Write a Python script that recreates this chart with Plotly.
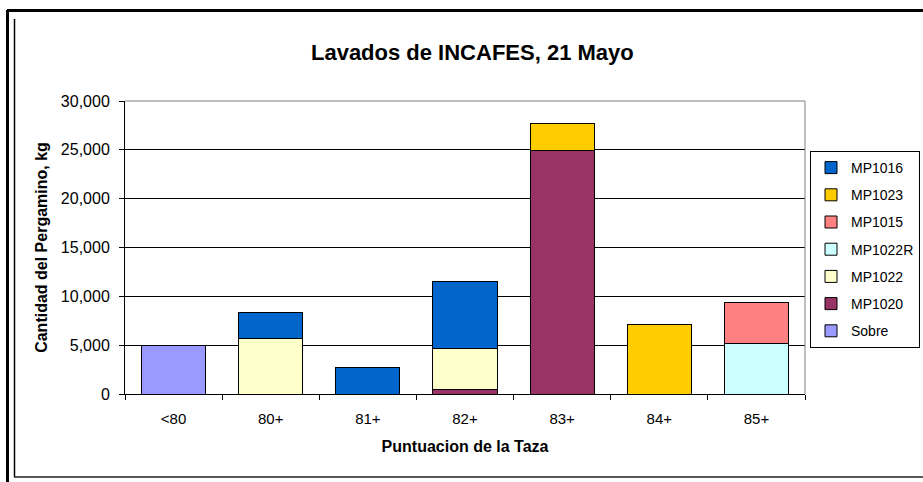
import plotly.graph_objects as go

categories = ["<80", "80+", "81+", "82+", "83+", "84+", "85+"]

# series, stacked bottom -> top
sobre   = [5000, 0, 0, 0, 0, 0, 0]
mp1020  = [0, 0, 0, 500, 24900, 0, 0]
mp1022  = [0, 5700, 0, 4200, 0, 0, 0]
mp1022r = [0, 0, 0, 0, 0, 0, 5200]
mp1015  = [0, 0, 0, 0, 0, 0, 4200]
mp1023  = [0, 0, 0, 0, 2800, 7100, 0]
mp1016  = [0, 2600, 2700, 6800, 0, 0, 0]

series = [
    ("Sobre", sobre, "#9999FF"),
    ("MP1020", mp1020, "#993366"),
    ("MP1022", mp1022, "#FFFFCC"),
    ("MP1022R", mp1022r, "#CCFFFF"),
    ("MP1015", mp1015, "#FF8080"),
    ("MP1023", mp1023, "#FFCC00"),
    ("MP1016", mp1016, "#0066CC"),
]

W, H = 923, 482
L, R, T, B = 125, 118, 101, 88
PW, PH = W - L - R, H - T - B

def xp(px):
    return (px - L) / PW

def yp(py):
    return (H - B - py) / PH

fig = go.Figure()
n = len(series)
for i, (name, vals, col) in enumerate(series):
    fig.add_trace(go.Bar(
        x=categories, y=[v if v else None for v in vals], name=name,
        marker=dict(color=col, line=dict(color="#000000", width=1)),
        legendgroup=name, legendrank=n - i,
    ))

font = "Liberation Sans, Arial, sans-serif"

fig.update_layout(
    width=W, height=H,
    margin=dict(l=L, r=R, t=T, b=B, autoexpand=False),
    barmode="stack", bargap=0.34,
    paper_bgcolor="white", plot_bgcolor="white",
    font=dict(family=font, color="#000000"),
    title=dict(text="<b>Lavados de INCAFES, 21 Mayo</b>", x=xp(473), xanchor="center",
               y=1 - 52 / H, yanchor="middle", yref="container",
               font=dict(size=22, family=font, color="#000")),
    legend=dict(x=xp(810), xanchor="left", y=yp(151), yanchor="top",
                traceorder="grouped", tracegroupgap=6,
                bordercolor="#000000", borderwidth=1, bgcolor="white",
                font=dict(size=14, family=font), itemwidth=30),
    xaxis=dict(showline=True, linecolor="#000", linewidth=1,
               ticks="outside", ticklen=5, tickcolor="#000", tickson="boundaries",
               tickfont=dict(size=15), ticklabelstandoff=11,
               title=dict(text="<b>Puntuacion de la Taza</b>", font=dict(size=16), standoff=14)),
    yaxis=dict(range=[0, 30000], dtick=5000, tickformat=",",
               showline=True, linecolor="#000", linewidth=1,
               ticks="outside", ticklen=5, tickcolor="#000",
               showgrid=True, gridcolor="#000000", gridwidth=1,
               tickfont=dict(size=16), ticklabelstandoff=6, zeroline=False,
               title=dict(text="<b>Cantidad del Pergamino, kg</b>", font=dict(size=16), standoff=9)),
    shapes=[
        # plot area right/top border
        dict(type="line", xref="paper", yref="paper", x0=1, x1=1, y0=0, y1=1,
             line=dict(color="#808080", width=1)),
        dict(type="line", xref="paper", yref="paper", x0=0, x1=1, y0=1, y1=1,
             line=dict(color="#808080", width=1)),
        # outer frame (thick)
        dict(type="line", xref="paper", yref="paper", x0=xp(7), x1=xp(923), y0=yp(10.5), y1=yp(10.5),
             line=dict(color="#000", width=3)),
        dict(type="line", xref="paper", yref="paper", x0=xp(7.5), x1=xp(7.5), y0=yp(10), y1=yp(482),
             line=dict(color="#000", width=3)),
        # inner chart-area frame (thin)
        dict(type="line", xref="paper", yref="paper", x0=xp(14.5), x1=xp(14.5), y0=yp(19), y1=yp(477),
             line=dict(color="#000", width=1.5)),
        dict(type="line", xref="paper", yref="paper", x0=xp(14), x1=xp(923), y0=yp(477), y1=yp(477),
             line=dict(color="#222", width=1.5)),
    ],
)

fig.write_html("out.html", config={"displayModeBar": False},
               post_script="document.body.style.margin='0';document.body.style.overflow='hidden';")
